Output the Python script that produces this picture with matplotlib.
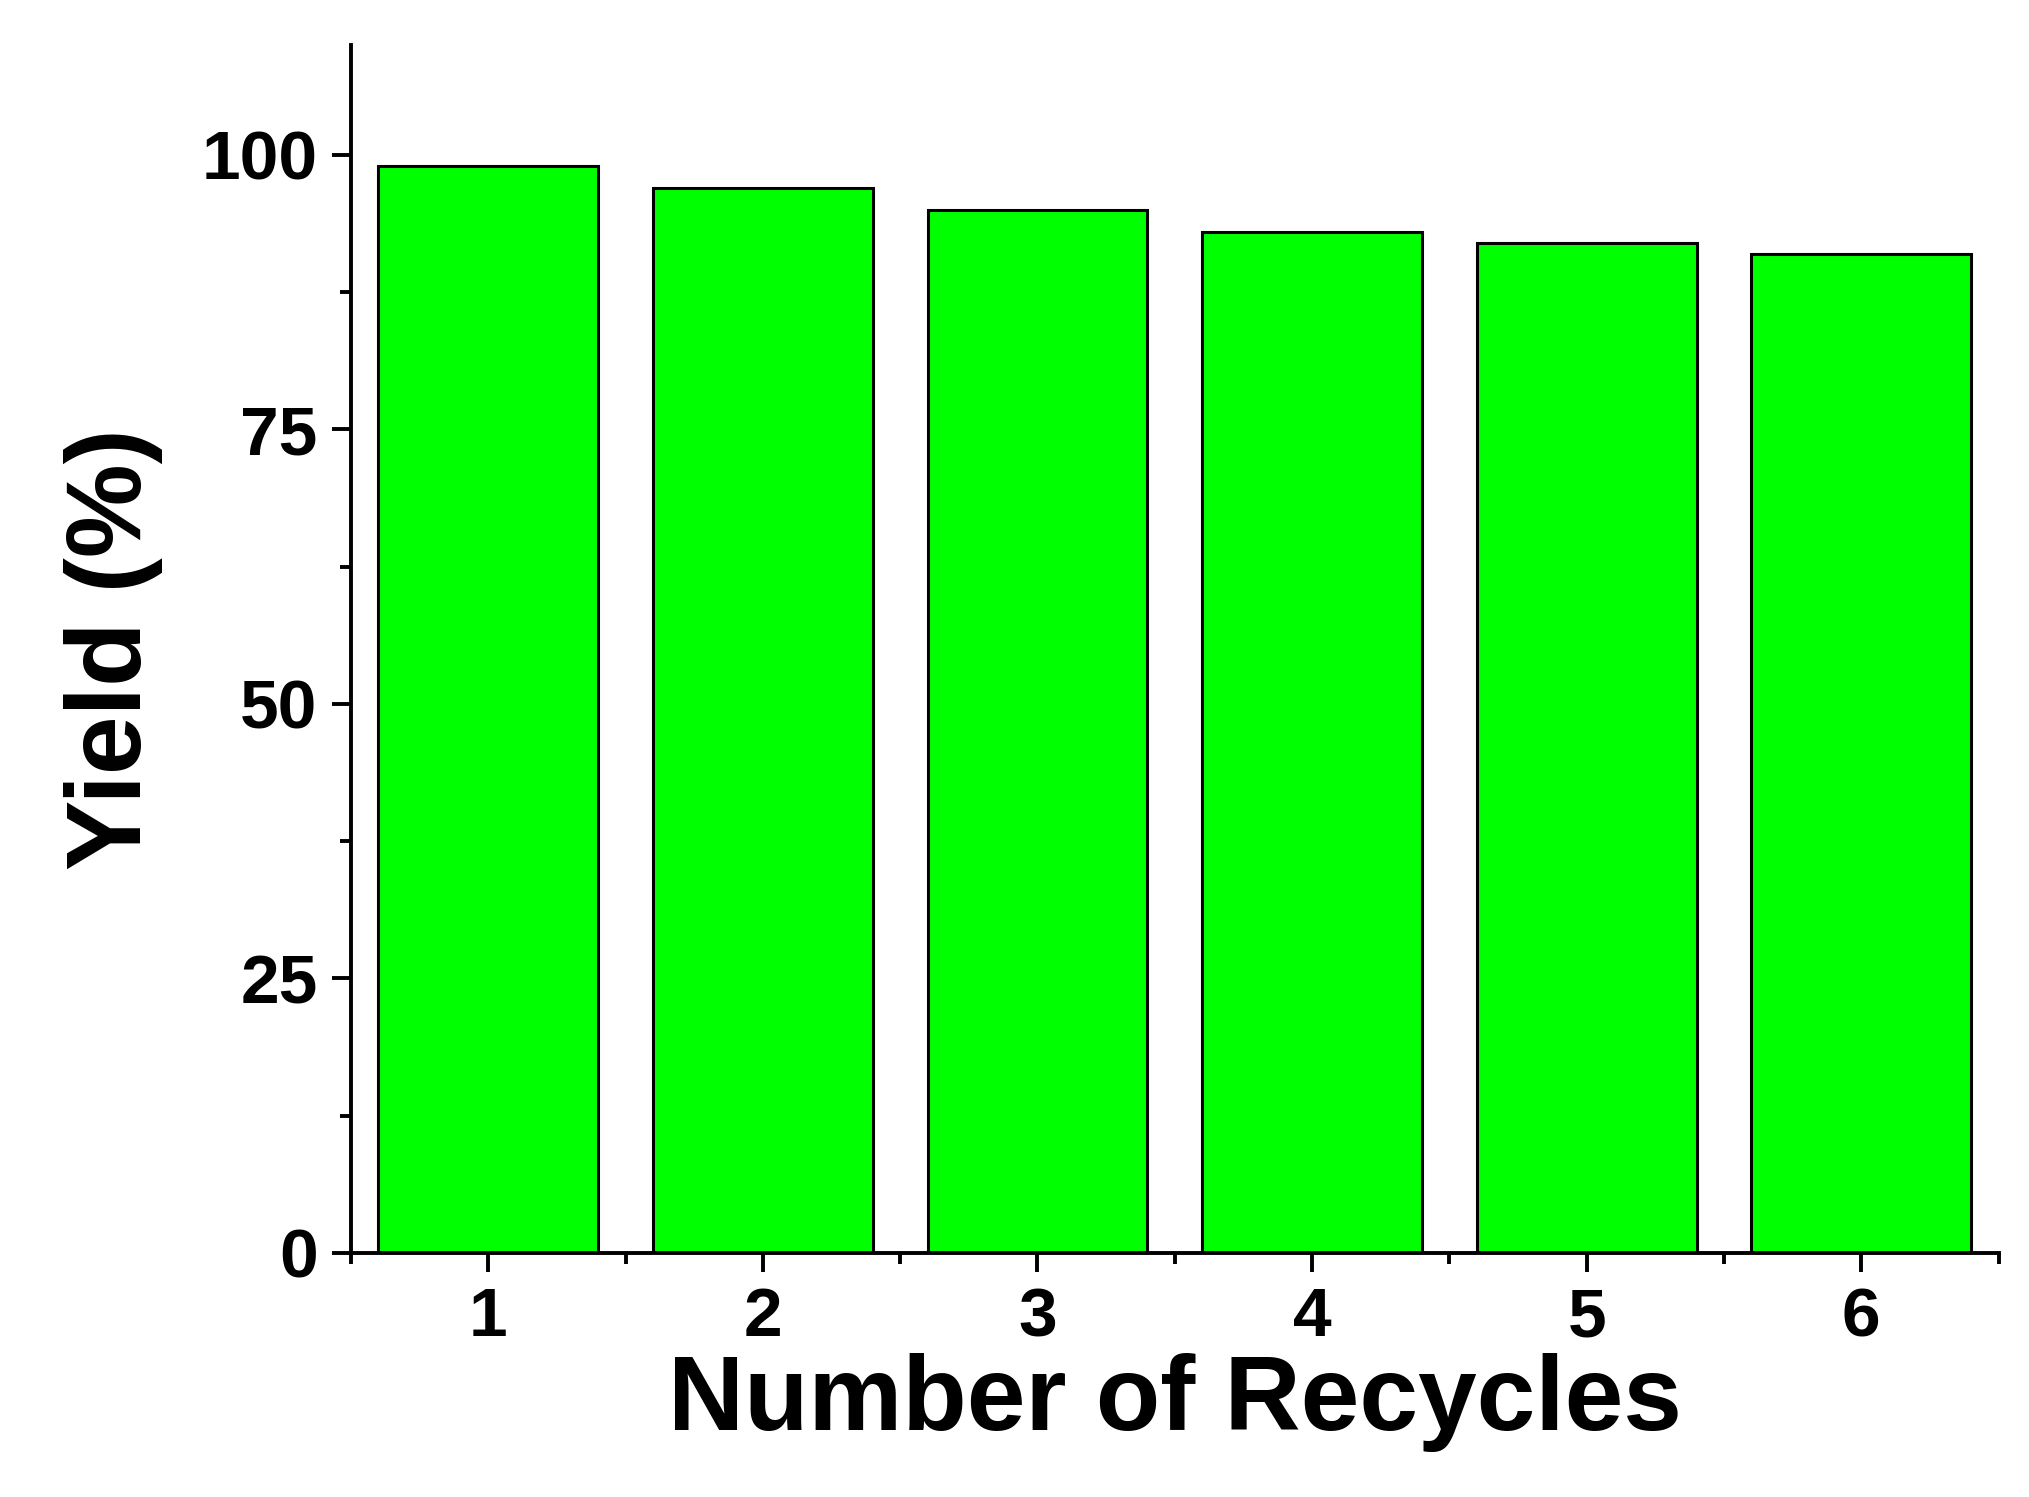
import matplotlib
matplotlib.use("Agg")
import matplotlib.pyplot as plt
from matplotlib.ticker import MultipleLocator

cycles = [1, 2, 3, 4, 5, 6]
yields = [99, 97, 95, 93, 92, 91]
ytick_vals = [0, 25, 50, 75, 100]

plt.rcParams['font.family'] = ['Liberation Sans', 'DejaVu Sans']
plt.rcParams['font.weight'] = 'bold'

fig = plt.figure(figsize=(20.29, 14.97), dpi=100)
ax = fig.add_axes([0.173, 0.163, 0.812, 0.807])
ax.bar(cycles, yields, width=0.8, color='#00ff00', edgecolor='black', linewidth=2.2)
ax.set_xlim(0.5, 6.5)
ax.set_ylim(0, 110)
ax.set_xticks(cycles)
ax.set_yticks(ytick_vals)
ax.xaxis.set_minor_locator(MultipleLocator(1, offset=0.5))
ax.yaxis.set_minor_locator(MultipleLocator(12.5))
for s in ['top', 'right']:
    ax.spines[s].set_visible(False)
for s in ['left', 'bottom']:
    ax.spines[s].set_linewidth(2.8)
ax.tick_params(which='major', length=14, width=2.8, labelsize=50, pad=10)
ax.tick_params(which='minor', length=8, width=2.8)
ax.set_xlabel('Number of Recycles', fontsize=76, fontweight='bold', labelpad=2)
ax.set_ylabel('Yield (%)', fontsize=76, fontweight='bold', labelpad=28)
fig.savefig('out.png', dpi=100)
